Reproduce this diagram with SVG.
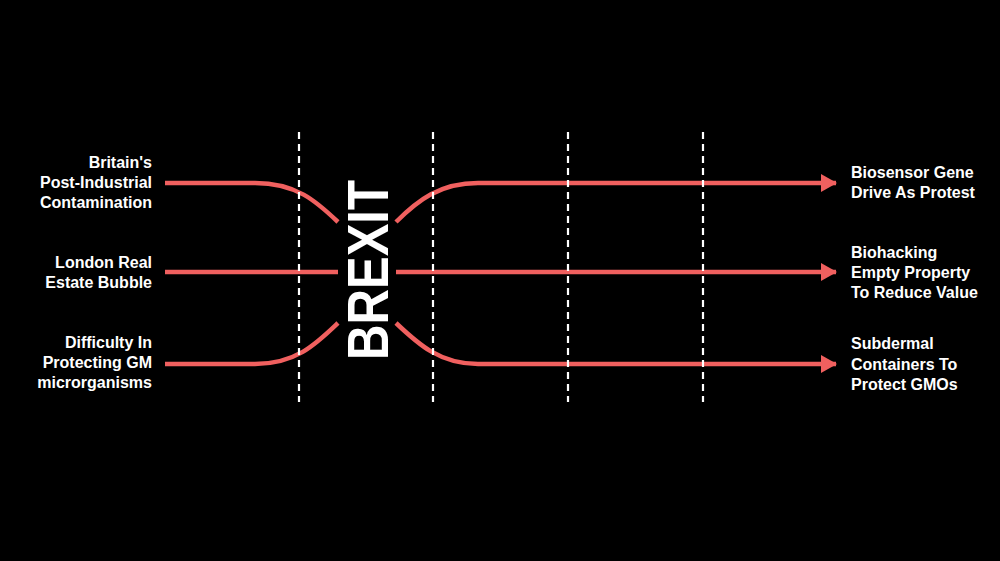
<svg xmlns="http://www.w3.org/2000/svg" width="1000" height="561" viewBox="0 0 1000 561">
<style>
.t{font-family:"Liberation Sans",Arial,sans-serif;font-weight:bold;font-size:16px;fill:#ffffff}
.l{text-anchor:end}
.flow{fill:none;stroke:#f0605f;stroke-width:4.5}
.dash{stroke:#ffffff;stroke-width:2.2;stroke-dasharray:7 5}
</style>
<defs>
<marker id="ah" markerUnits="userSpaceOnUse" markerWidth="18" markerHeight="20" refX="15" refY="10" orient="auto">
<path d="M0,1 L16,10 L0,19 Z" fill="#f0605f"/>
</marker>
</defs>
<rect width="1000" height="561" fill="#000000"/>
<g id="connectors">
<path class="flow" d="M165,183 L255,183 C296,183 316,201 338,222"/>
<path class="flow" d="M165,272 L338,272"/>
<path class="flow" d="M165,364 L255,364 C296,364 316,344 338,323"/>
<path class="flow" marker-end="url(#ah)" d="M396,222 C418,200 440,183 478,183 L836,183"/>
<path class="flow" marker-end="url(#ah)" d="M396,272 L836,272"/>
<path class="flow" marker-end="url(#ah)" d="M396,323 C418,344 440,364 478,364 L836,364"/>
</g>
<g id="grid">
<line class="dash" x1="299" y1="132" x2="299" y2="402"/>
<line class="dash" x1="433" y1="132" x2="433" y2="402"/>
<line class="dash" x1="568" y1="132" x2="568" y2="402"/>
<line class="dash" x1="703" y1="132" x2="703" y2="402"/>
</g>
<g id="brexit">
<text x="0" y="0" transform="translate(388,270) rotate(-90)" text-anchor="middle" font-family="Liberation Sans, Arial, sans-serif" font-weight="bold" font-size="57" fill="#ffffff" textLength="180" lengthAdjust="spacingAndGlyphs">BREXIT</text>
</g>
<g id="in1"><text class="t l" x="152"><tspan x="152" y="168">Britain's</tspan><tspan x="152" y="188">Post-Industrial</tspan><tspan x="152" y="208">Contamination</tspan></text></g>
<g id="in2"><text class="t l" x="152"><tspan x="152" y="268">London Real</tspan><tspan x="152" y="288">Estate Bubble</tspan></text></g>
<g id="in3"><text class="t l" x="152"><tspan x="152" y="348">Difficulty In</tspan><tspan x="152" y="368">Protecting GM</tspan><tspan x="152" y="388">microrganisms</tspan></text></g>
<g id="out1"><text class="t" x="851"><tspan x="851" y="178">Biosensor Gene</tspan><tspan x="851" y="198">Drive As Protest</tspan></text></g>
<g id="out2"><text class="t" x="851"><tspan x="851" y="258">Biohacking</tspan><tspan x="851" y="278">Empty Property</tspan><tspan x="851" y="298">To Reduce Value</tspan></text></g>
<g id="out3"><text class="t" x="851"><tspan x="851" y="349">Subdermal</tspan><tspan x="851" y="370">Containers To</tspan><tspan x="851" y="390">Protect GMOs</tspan></text></g>
</svg>
